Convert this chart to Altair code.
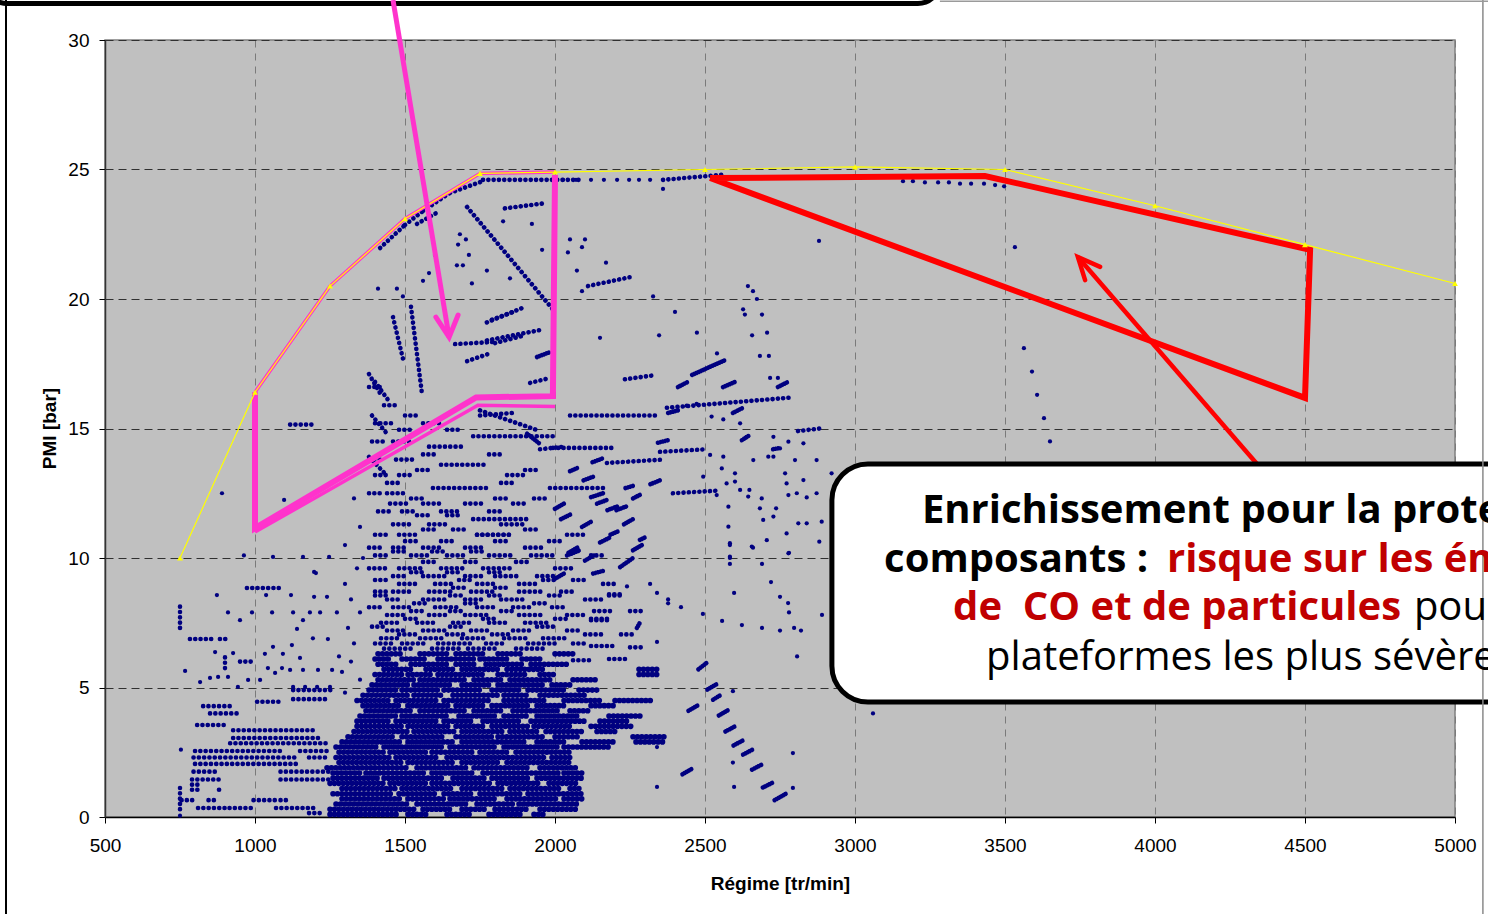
import altair as alt
import pandas as pd

# ------------------------------------------------------------------
# Full-load curve (PMI envelope)
env_rpm = [750, 1000, 1250, 1500, 1750, 2000, 2500, 3000, 3500, 4000, 4500, 5000]
env_pmi = [10.0, 16.4, 20.5, 23.1, 24.85, 24.9, 25.0, 25.1, 25.0, 23.6, 22.1, 20.6]

# Highlighted zones
pink_zone_rpm = [1000, 1000, 1737, 1993, 2000]
pink_zone_pmi = [16.4, 11.15, 16.2, 16.25, 24.8]
pink_edge_rpm = [1000, 1250, 1500, 1750, 2000]
pink_edge_pmi = [16.4, 20.5, 23.1, 24.85, 24.9]
pink_inner_rpm = [1000, 1743, 2000]
pink_inner_pmi = [11.0, 15.9, 15.85]
red_zone_rpm = [2517, 3433, 4517, 4500, 2517]
red_zone_pmi = [24.67, 24.75, 21.9, 16.18, 24.67]

# Arrows (shaft start, tip, head wings)
pink_arrow_rpm = [1460, 1647]
pink_arrow_pmi = [31.54, 18.53]
pink_head_rpm = [1603, 1647, 1677]
pink_head_pmi = [19.3, 18.53, 19.38]
red_arrow_rpm = [4343, 3743]
red_arrow_pmi = [13.59, 21.62]
red_head_rpm = [3767, 3743, 3817]
red_head_pmi = [20.73, 21.62, 21.24]

# ------------------------------------------------------------------
# Logged operating points: horizontal strings (pmi, [(rpm_from, rpm_to)])
left_rows = [
    (0.15, [(1180, 1230)]),
    (0.35, [(810, 900), (915, 990), (1070, 1210)]),
    (0.65, [(755, 800), (845, 880), (995, 1070), (1085, 1120)]),
    (1.05, [(790, 810), (880, 895)]),
    (1.25, [(790, 810)]),
    (1.45, [(790, 880), (1085, 1250)]),
    (1.75, [(795, 880), (1085, 1250)]),
    (2.05, [(800, 1140)]),
    (2.3, [(795, 1140), (1180, 1250)]),
    (2.55, [(800, 1100), (1150, 1250)]),
    (2.85, [(917, 1250)]),
    (3.05, [(927, 1220)]),
    (3.35, [(927, 1193)]),
    (3.55, [(807, 907)]),
    (4.0, [(850, 950)]),
    (4.28, [(827, 927)]),
    (4.45, [(1007, 1083)]),
    (4.55, [(1127, 1250)]),
    (4.9, [(1127, 1260)]),
    (6.0, [(950, 990)]),
    (6.87, [(783, 860), (883, 917)]),
    (8.84, [(973, 1093)]),
    (15.15, [(1117, 1190)]),
]

# Densest band of the map
core_rows = [
    (0.1, [(1250, 1480), (1510, 1570), (1640, 1720), (1780, 1890), (1930, 1970)]),
    (0.3, [(1250, 1530), (1560, 1660), (1690, 1770), (1800, 1910), (1950, 2070)]),
    (0.5, [(1270, 1510), (1540, 1710), (1740, 1860), (1880, 2080)]),
    (0.7, [(1290, 1490), (1510, 1630), (1650, 1810), (1840, 2010), (2030, 2090)]),
    (0.9, [(1260, 1460), (1480, 1610), (1630, 1730), (1750, 1890), (1910, 2100)]),
    (1.1, [(1290, 1470), (1490, 1660), (1690, 1830), (1850, 2020), (2050, 2090)]),
    (1.3, [(1250, 1430), (1450, 1570), (1590, 1790), (1810, 1950), (1980, 2080)]),
    (1.5, [(1260, 1410), (1430, 1630), (1660, 1770), (1790, 1910), (1940, 2090)]),
    (1.7, [(1260, 1350), (1370, 1570), (1590, 1730), (1760, 2010), (2030, 2100)]),
    (1.9, [(1240, 1390), (1400, 1510), (1540, 1710), (1730, 1910), (1950, 2080)]),
    (2.1, [(1280, 1490), (1510, 1660), (1690, 1810), (1840, 2050)]),
    (2.3, [(1270, 1450), (1470, 1610), (1640, 1790), (1800, 1970), (1990, 2050)]),
    (2.5, [(1280, 1430), (1450, 1570), (1590, 1730), (1750, 1850), (1870, 2060)]),
    (2.7, [(1270, 1410), (1430, 1630), (1650, 1810), (1830, 2010), (2030, 2180)]),
    (2.9, [(1290, 1490), (1510, 1670), (1690, 1910), (1940, 2040), (2090, 2200), (2270, 2370)]),
    (3.1, [(1310, 1470), (1490, 1630), (1670, 1790), (1810, 1970), (2000, 2080), (2260, 2370)]),
    (3.3, [(1330, 1510), (1530, 1670), (1690, 1830), (1850, 1950), (1970, 2100), (2140, 2200)]),
    (3.5, [(1340, 1490), (1510, 1650), (1670, 1770), (1790, 1910), (1930, 2060), (2120, 2260)]),
    (3.7, [(1340, 1450), (1470, 1610), (1630, 1730), (1760, 1890), (1920, 2100), (2150, 2250)]),
    (3.9, [(1350, 1470), (1490, 1650), (1680, 1810), (1830, 1910), (1940, 2080), (2180, 2290)]),
    (4.1, [(1370, 1530), (1550, 1710), (1730, 1830), (1860, 2010), (2050, 2120)]),
    (4.3, [(1360, 1490), (1510, 1650), (1670, 1770), (1790, 1910), (1940, 2030), (2120, 2200)]),
    (4.5, [(1340, 1450), (1470, 1610), (1630, 1790), (1830, 1970), (2030, 2160), (2200, 2330)]),
    (4.7, [(1360, 1510), (1530, 1630), (1660, 1810), (1830, 1910), (1950, 2100)]),
    (4.9, [(1380, 1470), (1490, 1610), (1630, 1760), (1790, 1890), (1910, 2040), (2080, 2150)]),
    (5.1, [(1390, 1510), (1530, 1660), (1690, 1790), (1810, 1970), (1990, 2060)]),
    (5.3, [(1410, 1530), (1550, 1710), (1730, 1830), (1850, 1990), (2060, 2140)]),
    (5.5, [(1400, 1490), (1510, 1590), (1610, 1770), (1810, 1910), (1950, 2000), (2280, 2340)]),
    (5.7, [(1430, 1530), (1570, 1670), (1690, 1810), (1840, 1960), (2280, 2340)]),
    (5.9, [(1410, 1480), (1520, 1650), (1670, 1730), (1770, 1890), (1920, 2040)]),
    (6.1, [(1400, 1450), (1490, 1570), (1610, 1730), (1750, 1850), (1890, 1960)]),
    (6.3, [(1410, 1490), (1550, 1650), (1670, 1770), (1810, 1890), (2000, 2060)]),
]

upper_rows = [
    (6.5, [(1430, 1530), (1590, 1690), (1710, 1810), (1870, 1960)]),
    (6.7, [(1400, 1470), (1490, 1570), (1610, 1730), (1770, 1830), (1910, 2000), (2060, 2100)]),
    (6.9, [(1420, 1490), (1550, 1630), (1690, 1770), (1830, 1910), (1960, 2040)]),
    (7.05, [(1480, 1540), (1640, 1700), (1790, 1850), (2100, 2160), (2220, 2260)]),
    (7.2, [(1440, 1500), (1560, 1640), (1720, 1780), (1860, 1920), (2040, 2080)]),
    (7.35, [(1390, 1430), (1650, 1700), (1940, 2000)]),
    (7.5, [(1420, 1480), (1540, 1600), (1660, 1720), (1780, 1840), (1900, 1980)]),
    (7.65, [(1500, 1540), (1760, 1800), (2000, 2040), (2120, 2180)]),
    (7.8, [(1440, 1500), (1580, 1640), (1700, 1780), (1880, 1960), (2040, 2100)]),
    (7.95, [(1520, 1570), (1650, 1690), (1820, 1870), (2130, 2200), (2250, 2290)]),
    (8.1, [(1380, 1420), (1460, 1520), (1600, 1680), (1740, 1800), (1860, 1920), (1990, 2040)]),
    (8.25, [(1530, 1580), (1700, 1740), (1930, 1970)]),
    (8.4, [(1440, 1480), (1560, 1640), (1700, 1760), (1820, 1900), (2100, 2160)]),
    (8.55, [(1400, 1440), (1650, 1690), (1780, 1820), (1980, 2020), (2180, 2230)]),
    (8.7, [(1400, 1440), (1460, 1520), (1580, 1660), (1720, 1800), (1880, 1960), (2020, 2060)]),
    (8.85, [(1660, 1700), (1800, 1850)]),
    (9.0, [(1480, 1540), (1600, 1660), (1740, 1800), (1880, 1940), (2160, 2200)]),
    (9.15, [(1400, 1450), (1680, 1720), (1960, 2010), (2060, 2110)]),
    (9.3, [(1460, 1500), (1560, 1640), (1700, 1760), (1800, 1880), (1940, 2000)]),
    (9.45, [(1520, 1560), (1640, 1680), (1780, 1820)]),
    (9.6, [(1380, 1440), (1480, 1560), (1620, 1700), (1760, 1860), (2000, 2060)]),
    (9.85, [(1560, 1600), (1700, 1740), (1870, 1910)]),
    (10.1, [(1400, 1440), (1520, 1580), (1640, 1700), (1780, 1860), (1920, 2000), (2120, 2170)]),
    (10.25, [(1460, 1500), (1590, 1630), (1720, 1760)]),
    (10.4, [(1380, 1420), (1460, 1500), (1560, 1620), (1700, 1760), (1900, 1960)]),
    (10.65, [(1500, 1540), (1620, 1670), (1800, 1840), (1980, 2020)]),
    (10.9, [(1400, 1450), (1480, 1540), (1740, 1860), (2040, 2100)]),
    (11.1, [(1560, 1600), (1660, 1700), (1900, 1940)]),
    (11.3, [(1460, 1520), (1580, 1640), (1820, 1900)]),
    (11.5, [(1727, 1907)]),
    (11.65, [(1540, 1580), (1640, 1690)]),
    (11.8, [(1410, 1460), (1490, 1530), (1620, 1680), (1780, 1820)]),
    (12.1, [(1450, 1510), (1560, 1620), (1700, 1760), (1860, 1900)]),
    (12.3, [(1520, 1560), (1800, 1840), (1930, 1970)]),
    (12.5, [(1380, 1420), (1440, 1500)]),
    (12.7, [(1593, 1773), (1983, 2173)]),
    (12.9, [(1440, 1480), (1820, 1860)]),
    (13.2, [(1400, 1450), (1480, 1520), (1840, 1900)]),
    (13.4, [(1540, 1590), (1900, 1940)]),
    (13.6, [(1620, 1770)]),
    (13.8, [(1380, 1430), (1470, 1530)]),
    (14.0, [(1560, 1600), (1780, 1830)]),
    (14.3, [(1580, 1700)]),
    (14.5, [(1390, 1440), (1460, 1520)]),
    (14.7, [(1727, 1993)]),
    (14.95, [(1480, 1530), (1640, 1690)]),
    (15.2, [(1400, 1460), (1560, 1620)]),
    (15.5, [(1500, 1540)]),
    (15.9, [(1430, 1480)]),
    (16.6, [(1380, 1420)]),
]

# Sloped strings of points (rpm0, pmi0, rpm1, pmi1)
sloped_traces = [
    (1417, 21.97, 1500, 22.86), (1500, 22.86, 1560, 23.4), (1560, 23.4, 1650, 24.1),
    (1650, 24.1, 1760, 24.55), (1760, 24.6, 2083, 24.6), (1540, 22.9, 1617, 23.4),
    (1833, 23.5, 1967, 23.7), (1707, 23.55, 1993, 19.6), (2360, 24.6, 2560, 24.8),
    (2110, 20.5, 2253, 20.85), (2373, 15.8, 2793, 16.2), (2233, 16.9, 2327, 17.05),
    (2050, 15.5, 2340, 15.5), (1750, 15.5, 1860, 15.6), (2810, 14.9, 2883, 15.0),
    (2350, 14.1, 2507, 14.2), (2173, 13.67, 2360, 13.8), (1950, 14.2, 2033, 14.3),
    (1993, 14.25, 2193, 14.25), (2393, 12.5, 2540, 12.6), (1740, 10.9, 1860, 10.9),
    (1667, 18.26, 1793, 18.34), (1750, 15.7, 1950, 14.9), (1520, 19.7, 1557, 16.3),
    (1460, 19.3, 1493, 17.7), (1380, 17.1, 1420, 16.3), (1400, 16.8, 1450, 16.0),
    (1390, 15.5, 1440, 14.8), (1380, 13.9, 1430, 13.3), (750, 7.3, 750, 8.2),
    (750, 0.3, 750, 1.3), (900, 5.75, 900, 6.2),
    (1773, 18.4, 1950, 18.8), (1800, 18.3, 1900, 18.6), (1773, 19.1, 1890, 19.65),
    (1790, 19.2, 1860, 19.5), (1707, 17.6, 1783, 17.9), (1917, 16.76, 1983, 16.95),
    (2060, 6.05, 2120, 6.05), (2180, 6.1, 2240, 6.1), (2120, 6.6, 2200, 6.6),
    (2250, 6.55, 2300, 6.55), (2120, 7.6, 2180, 7.6), (2180, 8.6, 2230, 8.6),
]

# Short dense streaks (rpm0, pmi0, rpm1, pmi1)
streaks = [
    (2478, 5.7, 2505, 5.95), (2508, 4.92, 2538, 5.12), (2527, 4.53, 2555, 4.73),
    (2546, 3.92, 2576, 4.12), (2568, 3.3, 2600, 3.5), (2595, 2.76, 2627, 2.96),
    (2627, 2.41, 2660, 2.61), (2657, 1.83, 2690, 2.03), (2693, 1.14, 2728, 1.34),
    (2732, 0.65, 2770, 0.9), (2445, 4.1, 2475, 4.3), (2425, 1.65, 2455, 1.85),
    (2050, 13.35, 2080, 13.5), (2095, 13.0, 2130, 13.15), (2120, 12.35, 2160, 12.5),
    (2140, 12.1, 2175, 12.25), (2175, 11.85, 2210, 12.0), (2205, 11.85, 2240, 12.0),
    (2235, 12.7, 2265, 12.8), (2260, 12.3, 2285, 12.45), (2318, 12.85, 2350, 13.0),
    (2283, 10.7, 2305, 10.82), (2185, 10.9, 2215, 11.05), (2020, 11.5, 2055, 11.7),
    (2045, 10.2, 2075, 10.4), (2125, 13.7, 2160, 13.85), (2343, 14.45, 2377, 14.55),
    (2623, 14.55, 2650, 14.75), (2727, 14.2, 2750, 14.25), (2457, 17.07, 2567, 17.64),
    (2410, 16.6, 2443, 16.8), (2560, 16.6, 2600, 16.8), (2743, 16.6, 2777, 16.8),
    (2593, 15.6, 2627, 15.8), (2377, 15.6, 2410, 15.7), (2040, 10.1, 2083, 10.3),
    (2217, 9.65, 2260, 10.0), (2127, 9.4, 2160, 9.5), (2273, 7.3, 2283, 7.5),
    (1940, 17.76, 1983, 17.95), (1907, 14.8, 1950, 14.4), (2000, 11.9, 2030, 12.1),
    (2090, 11.2, 2120, 11.4), (2150, 10.6, 2185, 10.8), (2230, 11.3, 2260, 11.5),
    (2100, 9.9, 2130, 10.1), (2000, 9.2, 2030, 9.4), (2260, 10.3, 2290, 10.5),
]

# Isolated points (rpm, pmi)
dots_top = [
    (2027, 24.6), (2070, 24.6), (2120, 24.6), (2163, 24.6), (2207, 24.6), (2247, 24.6),
    (2280, 24.6), (2317, 24.6), (2360, 24.25), (3160, 24.55), (3193, 24.55), (3233, 24.5),
    (3277, 24.5), (3313, 24.5), (3350, 24.45), (3387, 24.45), (3430, 24.45), (3467, 24.4),
    (3497, 24.35), (1683, 22.5), (1703, 22.3), (1677, 22.1), (1713, 21.7), (1673, 21.3),
    (1693, 21.3), (1773, 21.1), (1850, 20.8), (1723, 20.6), (1560, 20.7), (1827, 23.0),
    (1923, 22.9), (1957, 21.9), (1410, 20.4), (1473, 20.4), (1493, 20.1), (2050, 22.3),
    (2100, 22.3), (2043, 21.8), (2090, 22.0), (2073, 21.1), (2170, 21.4), (2090, 20.3),
    (2327, 20.1), (2400, 19.5), (2473, 18.7), (2150, 18.5), (2347, 18.6), (2540, 17.9),
    (2643, 20.5), (2660, 20.3), (2673, 20.0), (2627, 19.6), (2633, 19.4), (2690, 19.4),
    (2707, 18.7), (2657, 18.6), (2683, 17.8), (2713, 17.8), (2880, 22.24), (3533, 22.0),
    (3563, 18.1), (3590, 17.2), (3607, 16.3), (3630, 15.4), (3650, 14.5), (1600, 21.7),
    (1580, 21.0),
]
dots_right = [
    (3060, 4.0), (2793, 2.47), (2793, 1.12), (2597, 1.16), (2593, 2.1), (2340, 1.16),
    (2340, 2.7), (2593, 4.86), (2807, 6.2), (2890, 7.8), (2493, 7.84), (2420, 8.1),
    (2340, 6.76), (2557, 7.57), (2623, 7.41), (2690, 7.3), (2750, 7.2), (2797, 7.3),
    (2820, 7.2), (2597, 8.65), (2750, 8.5), (2777, 8.26), (2780, 7.9), (2720, 9.07),
    (2690, 9.77), (2583, 10.0), (2583, 9.77), (2583, 10.5), (2660, 10.4), (2780, 10.2),
    (2240, 8.9), (2317, 9.0), (2340, 8.65), (2377, 8.4), (2377, 8.25),
    (2578, 11.98), (2578, 11.21), (2583, 10.57), (2583, 10.05), (2656, 10.44), (2706, 10.69),
    (2778, 10.18), (2811, 11.34), (2839, 11.34), (2881, 10.63), (2889, 11.4), (2872, 12.5),
    (2839, 12.34), (2806, 12.5), (2778, 12.43), (2767, 13.27), (2772, 12.88), (2828, 13.01),
    (2800, 13.78), (2828, 14.43), (2872, 13.78), (2922, 13.27), (2737, 11.92), (2728, 11.6),
    (2689, 12.3), (2683, 11.92), (2644, 12.37), (2648, 12.63), (2600, 12.95), (2600, 13.27),
    (2556, 13.46), (2572, 12.88), (2539, 12.43), (2494, 13.14), (2517, 13.98), (2561, 13.91),
    (2617, 12.63), (2772, 10.95), (2694, 11.47), (2728, 13.91), (2711, 13.91), (2661, 13.78),
    (2750, 14.23), (2778, 14.49), (2728, 14.68), (2639, 14.68), (2617, 15.2), (2561, 15.35),
    (2522, 15.46), (2439, 15.88), (2472, 15.95), (2717, 16.95), (2743, 16.95),
]
dots_left = [
    (890, 12.5), (1097, 12.24), (1060, 10.04), (1160, 10.04), (1247, 10.04), (963, 10.1),
    (873, 8.57), (950, 7.6), (910, 7.9), (990, 7.9), (1057, 7.9), (1127, 7.9), (1037, 8.57),
    (1120, 8.57), (1197, 9.46), (1197, 8.5), (1160, 7.6), (1183, 7.9), (1217, 7.9),
    (1140, 7.26), (1060, 6.57), (1123, 6.64), (1193, 6.9), (1243, 6.87), (1150, 6.14),
    (1093, 6.3), (1033, 6.3), (927, 6.33), (867, 6.37), (767, 5.64), (817, 5.21), (850, 5.37),
    (877, 5.41), (910, 5.41), (943, 5.02), (977, 5.29), (1017, 5.29), (1043, 5.75),
    (1067, 5.56), (1090, 5.75), (1117, 5.68), (1160, 5.68), (1210, 5.68), (1257, 5.68),
    (1127, 5.02), (1167, 5.02), (1207, 5.02), (1250, 5.02), (753, 2.6), (750, 0.05),
    (1273, 7.9), (1240, 8.5), (1203, 9.42), (1300, 9.0), (1320, 8.4), (1340, 9.6),
    (1300, 10.5), (1350, 11.2), (1330, 12.3), (1310, 7.3), (1280, 6.2), (1330, 6.7),
    (1350, 7.9), (1360, 10.0), (1290, 5.6), (1320, 6.0), (1350, 5.3), (1300, 4.8),
]

# Annotation box text
note_bold = [("Enrichissement pour la protection des", 3223, 11.35),
             ("composants :", 3097, 9.46)]
note_red = [("risque sur les émissions", 4040, 9.46),
            ("de\u00a0 CO et de particules", 3327, 7.61)]
note_plain = [("pour les", 4863, 7.61), ("plateformes les plus sévères", 3437, 5.68)]

# ------------------------------------------------------------------
NAVY = "#000080"
PINK = "#FF33CC"
RED = "#FF0000"
FONT = "Liberation Sans"

XSCALE = alt.Scale(domain=[500, 5000], nice=False, zero=False)
YSCALE = alt.Scale(domain=[0, 30], nice=False, zero=False)
XAXIS = alt.Axis(values=list(range(500, 5001, 500)), format="d", title="Régime [tr/min]",
                 labelFont=FONT, labelFontSize=19, labelColor="black", labelPadding=13,
                 labelFlush=False, tickSize=6, tickColor="black", domainColor="black",
                 domainWidth=1.5, grid=True, gridColor="#7a7a7a", gridDash=[7, 6],
                 gridWidth=1, titleFont=FONT, titleFontSize=19, titleFontWeight="bold",
                 titleColor="black", titleY=72, titleBaseline="alphabetic")
YAXIS = alt.Axis(values=list(range(0, 31, 5)), format="d", title="PMI [bar]",
                 labelFont=FONT, labelFontSize=19, labelColor="black", labelPadding=10,
                 labelFlush=False, tickSize=6, tickColor="black", domainColor="#333333",
                 domainWidth=1.5, grid=True, gridColor="#303030", gridDash=[8, 5],
                 gridWidth=1.2, titleFont=FONT, titleFontSize=19, titleFontWeight="bold",
                 titleColor="black", titleAngle=270, titleBaseline="alphabetic",
                 titleAlign="center", titleX=-50, titleY=388)


def X(f):
    return alt.X(f"{f}:Q", scale=XSCALE, axis=XAXIS)


def Y(f):
    return alt.Y(f"{f}:Q", scale=YSCALE, axis=YAXIS)


def runs(rows):
    return [{"r0": a, "p0": p, "r1": b, "p1": p} for p, spans in rows for a, b in spans]


def segs(items):
    return [{"r0": a, "p0": b, "r1": c, "p1": d} for a, b, c, d in items]


def path(rpm, pmi):
    return pd.DataFrame({"rpm": rpm, "pmi": pmi, "i": list(range(len(rpm)))})


def dotted(records, width, gap):
    return alt.Chart(pd.DataFrame(records)).mark_rule(
        color=NAVY, strokeWidth=width, strokeCap="round", strokeDash=[0.1, gap]
    ).encode(x=X("r0"), x2="r1", y=Y("p0"), y2="p1")


core_layer = dotted(runs(core_rows), 5.6, 4.3)
trace_layer = dotted(runs(left_rows) + runs(upper_rows) + segs(sloped_traces), 4.6, 5.2)
streak_layer = dotted(segs(streaks), 4.6, 2.4)

dot_df = pd.DataFrame(dots_top + dots_right + dots_left, columns=["rpm", "pmi"])
dot_layer = alt.Chart(dot_df).mark_circle(color=NAVY, size=18, opacity=1).encode(
    x=X("rpm"), y=Y("pmi"))


def poly(rpm, pmi, color, width, cap="butt"):
    return alt.Chart(path(rpm, pmi)).mark_line(
        color=color, strokeWidth=width, strokeJoin="miter", strokeCap=cap
    ).encode(x=X("rpm"), y=Y("pmi"), order="i:Q")


pink_edge = poly(pink_edge_rpm, pink_edge_pmi, PINK, 3.5)
pink_inner = poly(pink_inner_rpm, pink_inner_pmi, PINK, 3.5)
pink_zone = poly(pink_zone_rpm, pink_zone_pmi, PINK, 6)
red_zone = poly(red_zone_rpm, red_zone_pmi, RED, 6)

env_df = path(env_rpm, env_pmi)
env_line = alt.Chart(env_df).mark_line(color="#FFFF00", strokeWidth=1.2).encode(
    x=X("rpm"), y=Y("pmi"), order="i:Q")
env_pts = alt.Chart(env_df).mark_point(
    shape="triangle-up", filled=True, color="#FFFF00", size=34, opacity=1
).encode(x=X("rpm"), y=Y("pmi"))

pink_shaft = poly(pink_arrow_rpm, pink_arrow_pmi, PINK, 5)
pink_head = poly(pink_head_rpm, pink_head_pmi, PINK, 5, cap="round")
red_shaft = poly(red_arrow_rpm, red_arrow_pmi, RED, 4.5)
red_head = poly(red_head_rpm, red_head_pmi, RED, 4.5, cap="round")

# Callout boxes
box_df = pd.DataFrame({"r0": [100], "r1": [3283], "p0": [31.41], "p1": [34.5]})
top_box = alt.Chart(box_df).mark_rect(
    fill="white", stroke="black", strokeWidth=5, cornerRadius=22
).encode(x=X("r0"), x2="r1", y=Y("p0"), y2="p1")
note_df = pd.DataFrame({"r0": [2923], "r1": [5800], "p0": [4.44], "p1": [13.63]})
note_box = alt.Chart(note_df).mark_rect(
    fill="white", stroke="black", strokeWidth=5, cornerRadius=36
).encode(x=X("r0"), x2="r1", y=Y("p0"), y2="p1")

# Page frame lines
frame_df = pd.DataFrame({"r": [170, 5093], "p0": [-4, -4], "p1": [32, 32],
                         "c": ["#000000", "#8a8a8a"], "w": [2, 1.5]})
frame_v = alt.Chart(frame_df).mark_rule().encode(
    x=X("r"), y=Y("p0"), y2="p1",
    color=alt.Color("c:N", scale=None), strokeWidth=alt.StrokeWidth("w:Q", scale=None))
top_line_df = pd.DataFrame({"r0": [3283], "r1": [5300], "p": [31.5]})
frame_h = alt.Chart(top_line_df).mark_rule(color="#9a9a9a", strokeWidth=1.5).encode(
    x=X("r0"), x2="r1", y=Y("p"))


def note_text(items, color, weight):
    df = pd.DataFrame(items, columns=["t", "rpm", "pmi"])
    return alt.Chart(df).mark_text(
        align="left", baseline="alphabetic", font="Open Sans", fontSize=40,
        fontWeight=weight, color=color
    ).encode(x=X("rpm"), y=Y("pmi"), text="t:N")


chart = alt.layer(
    core_layer, trace_layer, streak_layer, dot_layer,
    pink_edge, pink_inner, pink_zone, red_zone,
    env_line, env_pts,
    red_shaft, red_head,
    top_box, note_box, frame_v, frame_h,
    pink_shaft, pink_head,
    note_text(note_bold, "black", "bold"),
    note_text(note_red, "#C00000", "bold"),
    note_text(note_plain, "black", "normal"),
).properties(
    width=1350, height=777,
    autosize=alt.AutoSizeParams(type="none"),
    padding={"left": 105, "top": 40, "right": 33, "bottom": 97},
    background="white",
).configure_view(fill="#C0C0C0", stroke="#808080", strokeWidth=1.5)

chart.save("out.html", embed_options={"renderer": "svg", "actions": False})
